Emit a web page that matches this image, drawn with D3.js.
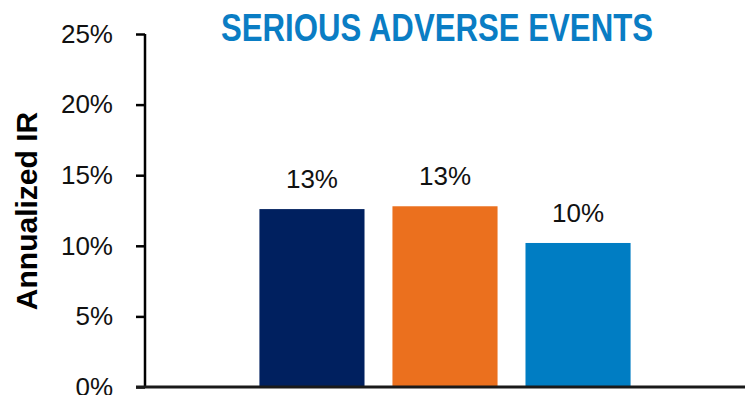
<!DOCTYPE html>
<html>
<head>
<meta charset="utf-8">
<script src="https://cdn.jsdelivr.net/npm/d3@7"></script>
<style>
  html, body { margin: 0; padding: 0; background: #fff; }
  svg { display: block; }
</style>
</head>
<body>
<svg id="chart" width="745" height="395"></svg>
<script>
// Annualized incidence rate of serious adverse events, one bar per cohort
const categories = ["Cohort A", "Cohort B", "Cohort C"];
const values = [0.126, 0.128, 0.102];
const colors = ["#00205F", "#EB701E", "#007DC3"];
const yTicks = [0, 0.05, 0.10, 0.15, 0.20, 0.25];
const titleText = "SERIOUS ADVERSE EVENTS";
const yTitle = "Annualized IR";

const W = 745, H = 395;
const plot = { left: 145, right: 745, top: 34, bottom: 387 };

const svg = d3.select("#chart");

const x = d3.scaleBand()
  .domain(categories)
  .range([plot.left, plot.right])
  .paddingInner(0.21)
  .paddingOuter(0.86);

const y = d3.scaleLinear()
  .domain([0, 0.25])
  .range([plot.bottom, plot.top]);

const pct = d3.format(".0%");

// bars
svg.append("g")
  .selectAll("rect")
  .data(values)
  .join("rect")
  .attr("x", (d, i) => x(categories[i]))
  .attr("y", d => y(d))
  .attr("width", x.bandwidth())
  .attr("height", d => y(0) - y(d))
  .attr("fill", (d, i) => colors[i]);

// value labels
svg.append("g")
  .selectAll("text")
  .data(values)
  .join("text")
  .attr("x", (d, i) => x(categories[i]) + x.bandwidth() / 2)
  .attr("y", d => y(d) - 21)
  .attr("text-anchor", "middle")
  .attr("font-family", "'Liberation Sans', Arial, sans-serif")
  .attr("font-size", 26)
  .attr("fill", "#111")
  .text(d => pct(d));

// y axis
const yAxis = svg.append("g")
  .attr("transform", `translate(${plot.left},0)`)
  .call(d3.axisLeft(y).tickValues(yTicks).tickFormat(pct).tickSize(9).tickPadding(23));
yAxis.select(".domain").remove();
yAxis.selectAll(".tick line").attr("stroke", "#000").attr("stroke-width", 2.5);
yAxis.selectAll(".tick text")
  .attr("font-family", "'Liberation Sans', Arial, sans-serif")
  .attr("font-size", 26)
  .attr("fill", "#111");
yAxis.append("line")
  .attr("x1", 0).attr("x2", 0)
  .attr("y1", y(0.25)).attr("y2", y(0) + 1)
  .attr("stroke", "#000").attr("stroke-width", 2.5);

// x baseline
svg.append("line")
  .attr("x1", plot.left - 9).attr("x2", plot.right)
  .attr("y1", y(0)).attr("y2", y(0))
  .attr("stroke", "#1a1a1a").attr("stroke-width", 3);

// y axis title
svg.append("text")
  .attr("transform", `translate(37,${(plot.top + plot.bottom) / 2 + 0.5}) rotate(-90)`)
  .attr("text-anchor", "middle")
  .attr("font-family", "'Liberation Sans', Arial, sans-serif")
  .attr("font-weight", "bold")
  .attr("font-size", 30)
  .attr("fill", "#000")
  .text(yTitle);

// chart title
svg.append("text")
  .attr("x", 437)
  .attr("y", 41)
  .attr("text-anchor", "middle")
  .attr("font-family", "'Liberation Sans', Arial, sans-serif")
  .attr("font-weight", "bold")
  .attr("font-size", 38)
  .attr("textLength", 432)
  .attr("lengthAdjust", "spacingAndGlyphs")
  .attr("fill", "#0A7DC4")
  .text(titleText);
</script>
</body>
</html>
